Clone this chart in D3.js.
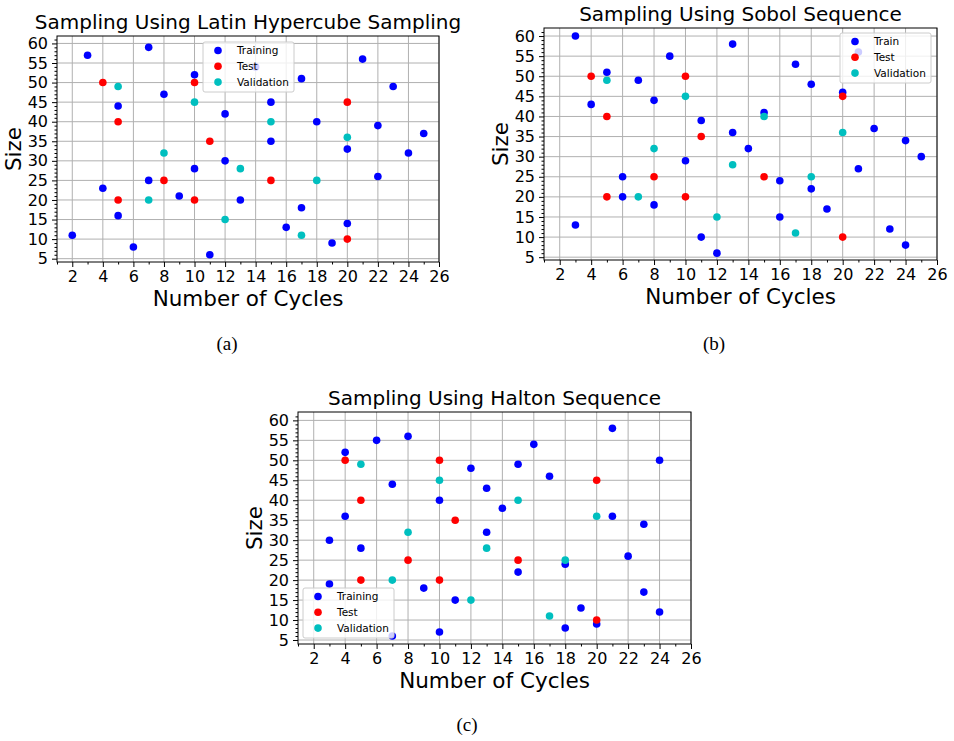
<!DOCTYPE html>
<html>
<head>
<meta charset="utf-8">
<script src="https://cdn.jsdelivr.net/npm/d3@7/dist/d3.min.js"></script>
<style>
  body { margin: 0; background: #fff; }
  text { font-family: "DejaVu Sans", sans-serif; fill: #000; }
</style>
</head>
<body>
<div id="fig"></div>
<script>
// tick labels shared by all three panels
const xTicks = [2, 4, 6, 8, 10, 12, 14, 16, 18, 20, 22, 24, 26];
const yTicks = [5, 10, 15, 20, 25, 30, 35, 40, 45, 50, 55, 60];

// training points (cycles, size) per sampler
const trainLHS = [[2,11],[3,57],[4,23],[5,44],[5,16],[6,8],[7,59],[7,25],[8,47],[9,21],[10,52],[10,28],
  [11,6],[12,42],[12,30],[13,20],[14,54],[15,45],[15,35],[16,13],[17,51],[17,18],[18,40],[19,9],
  [20,33],[20,14],[21,56],[22,39],[22,26],[23,49],[24,32],[25,37]];
const trainSobol = [[3,60],[3,13],[4,43],[5,51],[6,25],[6,20],[7,49],[8,44],[8,18],[9,55],[10,29],[11,39],
  [11,10],[12,6],[13,58],[13,36],[14,32],[15,41],[16,24],[16,15],[17,53],[18,48],[18,22],[19,17],
  [20,46],[21,56],[21,27],[22,37],[23,12],[24,34],[24,8],[25,30]];
const trainHalton = [[3,30],[3,19],[4,52],[4,36],[5,28],[6,55],[7,44],[7,6],[8,56],[9,18],[10,40],[10,7],
  [11,15],[12,48],[13,43],[13,32],[14,38],[15,49],[15,22],[16,54],[17,46],[18,24],[18,8],[19,13],
  [20,9],[21,58],[21,36],[22,26],[23,34],[23,17],[24,50],[24,12]];

// test and validation sets are the same in every panel
const testPts = [[4,50],[5,40],[5,20],[8,25],[10,50],[10,20],[11,35],[15,25],[20,45],[20,10]];
const valPts = [[5,49],[7,20],[8,32],[10,45],[12,15],[13,28],[15,40],[17,11],[18,25],[20,36]];

const labelsLong = ["Training", "Test", "Validation"];
const labelsShort = ["Train", "Test", "Validation"];
const colors = ["#0000ff", "#ff0000", "#00bfbf"];

const W = 954, H = 741;
const svg = d3.select("#fig").append("svg")
    .attr("width", W)
    .attr("height", H);

const panels = [
  { title: "Sampling Using Latin Hypercube Sampling", train: trainLHS, names: labelsLong,
    box: [57, 36, 439, 262], ydom: [4.15, 61.9], leg: { x: 146, y: 6 }, cap: "(a)", capX: 227, capY: 350 },
  { title: "Sampling Using Sobol Sequence", train: trainSobol, names: labelsShort,
    box: [544, 28, 937, 260], ydom: [4.3, 62], leg: { right: 6, y: 5 }, cap: "(b)", capX: 714, capY: 350 },
  { title: "Sampling Using Halton Sequence", train: trainHalton, names: labelsLong,
    box: [298, 412, 691, 644], ydom: [4.0, 62.1], leg: { x: 5, bottom: 6 }, cap: "(c)", capX: 467, capY: 731 }
];

panels.forEach(drawPanel);

function drawPanel(p) {
  const [x0, y0, x1, y1] = p.box;
  const w = x1 - x0, h = y1 - y0;
  const g = svg.append("g").attr("transform", `translate(${x0},${y0})`);

  const x = d3.scaleLinear().domain([1, 26]).range([0, w]);
  const y = d3.scaleLinear().domain(p.ydom).range([h, 0]);

  // grid
  g.append("g").selectAll("line").data(xTicks).join("line")
      .attr("x1", d => x(d)).attr("x2", d => x(d))
      .attr("y1", 0).attr("y2", h)
      .attr("stroke", "#b0b0b0").attr("stroke-width", 1);
  g.append("g").selectAll("line").data(yTicks).join("line")
      .attr("y1", d => y(d)).attr("y2", d => y(d))
      .attr("x1", 0).attr("x2", w)
      .attr("stroke", "#b0b0b0").attr("stroke-width", 1);

  // minor ticks every unit
  const xMinor = d3.range(1, 27).filter(v => !xTicks.includes(v));
  const yMinor = d3.range(5, 62).filter(v => !yTicks.includes(v));

  const xAxis = g.append("g").attr("transform", `translate(0,${h})`)
      .call(d3.axisBottom(x).tickValues(xTicks).tickSize(5).tickPadding(4));
  g.append("g").attr("transform", `translate(0,${h})`)
      .call(d3.axisBottom(x).tickValues(xMinor).tickSize(2.5).tickFormat(""))
      .call(a => a.select(".domain").remove());
  const yAxis = g.append("g")
      .call(d3.axisLeft(y).tickValues(yTicks).tickSize(5).tickPadding(4));
  g.append("g")
      .call(d3.axisLeft(y).tickValues(yMinor).tickSize(2.5).tickFormat(""))
      .call(a => a.select(".domain").remove());

  [xAxis, yAxis].forEach(a => {
    a.select(".domain").remove();
    a.selectAll("text").style("font-family", "DejaVu Sans").style("font-size", "16px");
  });

  // points: training, then test, then validation on top
  const sets = [p.train, testPts, valPts];
  sets.forEach((s, i) => {
    g.append("g").selectAll("circle").data(s).join("circle")
        .attr("cx", d => x(d[0]))
        .attr("cy", d => y(d[1]))
        .attr("r", 3.8)
        .attr("fill", colors[i]);
  });

  // spines
  g.append("rect")
      .attr("width", w).attr("height", h)
      .attr("fill", "none").attr("stroke", "#000").attr("stroke-width", 1);

  // legend
  const lw = 91, lh = 50;
  const lx = p.leg.x !== undefined ? p.leg.x : w - p.leg.right - lw;
  const ly = p.leg.y !== undefined ? p.leg.y : h - p.leg.bottom - lh;
  const leg = g.append("g").attr("transform", `translate(${lx},${ly})`);
  leg.append("rect")
      .attr("width", lw).attr("height", lh).attr("rx", 2)
      .attr("fill", "#fff").attr("fill-opacity", 0.8)
      .attr("stroke", "#cccccc").attr("stroke-width", 1);
  p.names.forEach((n, i) => {
    const ry = 8.5 + i * 15.8;
    leg.append("circle").attr("cx", 15).attr("cy", ry).attr("r", 3.8).attr("fill", colors[i]);
    leg.append("text").attr("x", 34).attr("y", ry).attr("dy", "0.35em")
        .style("font-size", "10.5px").text(n);
  });

  // titles and labels
  g.append("text").attr("x", w / 2).attr("y", -7)
      .attr("text-anchor", "middle").style("font-size", "20px").text(p.title);
  g.append("text").attr("x", w / 2).attr("y", h + 44)
      .attr("text-anchor", "middle").style("font-size", "21.5px").text("Number of Cycles");
  g.append("text")
      .attr("transform", `translate(-36,${h / 2}) rotate(-90)`)
      .attr("text-anchor", "middle").style("font-size", "21.5px").text("Size");

  svg.append("text").attr("x", p.capX).attr("y", p.capY)
      .attr("text-anchor", "middle")
      .style("font-family", "'Liberation Serif', serif").style("font-size", "19px")
      .text(p.cap);
}
</script>
</body>
</html>
